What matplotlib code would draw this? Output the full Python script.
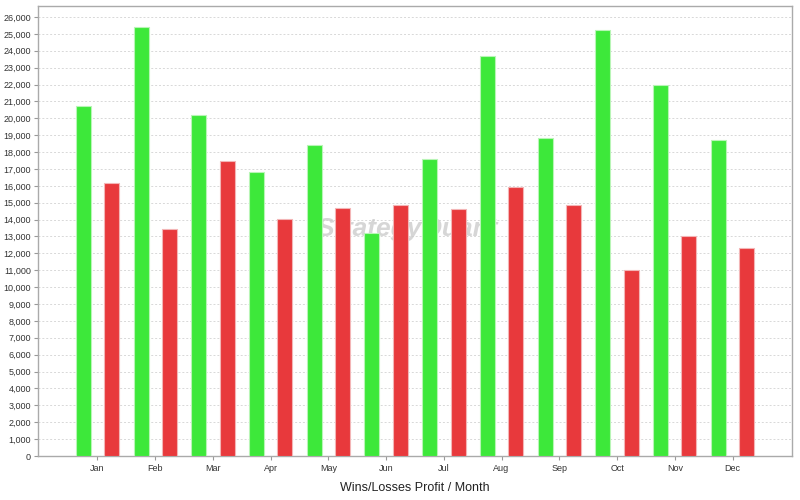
import matplotlib
matplotlib.use("Agg")
from matplotlib import pyplot as plt
from matplotlib.ticker import FuncFormatter, MultipleLocator
import numpy as np

plt.rcParams['font.family'] = ['Liberation Sans', 'DejaVu Sans']

months = ["Jan", "Feb", "Mar", "Apr", "May", "Jun", "Jul", "Aug", "Sep", "Oct", "Nov", "Dec"]
wins = [20700, 25400, 20200, 16800, 18400, 13200, 17600, 23700, 18850, 25200, 22000, 18700]
losses = [16150, 13450, 17500, 14050, 14700, 14850, 14600, 15950, 14850, 11000, 13000, 12300]

fig = plt.figure(figsize=(8, 5), dpi=100)
ax = fig.add_axes([0.0475, 0.088, 0.9425, 0.9])

x = np.arange(len(months))
w = 0.26
ax.bar(x - 0.245, wins, w, color="#3de83a", edgecolor="#b8f5b6", linewidth=0.8, zorder=3)
ax.bar(x + 0.245, losses, w, color="#e8393c", edgecolor="#f3b5b6", linewidth=0.8, zorder=3)

ax.set_xlim(-1.03, 12.03)
ax.set_ylim(0, 26650)
ax.yaxis.set_major_locator(MultipleLocator(1000))
ax.yaxis.set_major_formatter(FuncFormatter(lambda v, p: "{:,.0f}".format(v)))
ax.set_xticks(x)
ax.set_xticklabels(months)
ax.tick_params(axis="both", labelsize=6.5, labelcolor="#333333", color="#999999",
               length=3, width=0.8, pad=2)
ax.tick_params(axis="x", pad=3)
ax.grid(axis="y", linestyle=(0, (2, 2)), color="#d8d8d8", linewidth=0.7, zorder=0)
for s in ax.spines.values():
    s.set_color("#aaaaaa")
    s.set_linewidth(1)

ax.set_xlabel("Wins/Losses Profit / Month", fontsize=9, color="#222222", labelpad=6)

# watermark, behind the bars
ax.text(0.49, 0.505, "StrategyQuant", transform=ax.transAxes, ha="center", va="center",
        fontsize=19, fontweight="bold", fontstyle="italic", color="#cccccc", alpha=0.8, zorder=2)

fig.savefig("out.png", dpi=100)
